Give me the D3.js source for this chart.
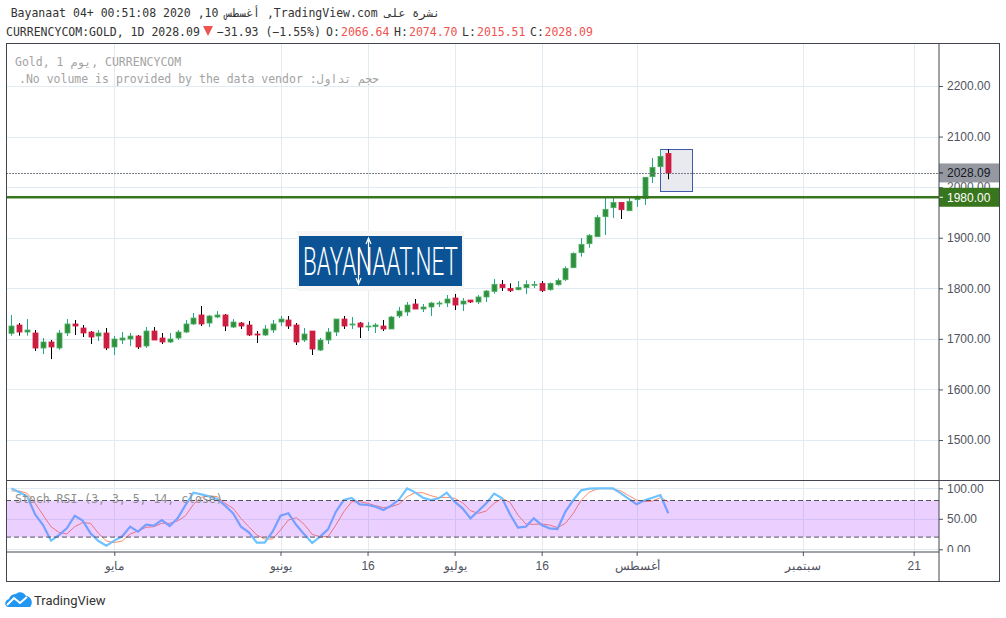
<!DOCTYPE html>
<html>
<head>
<meta charset="utf-8">
<style>
body { margin: 0; background: #fff; }
svg { display: block; }
.mono { font-family: "DejaVu Sans Mono", monospace; font-size: 11.5px; }
.axis text { font-family: "Liberation Sans", sans-serif; font-size: 12px; fill: #50535e; }
.axis line { stroke: #50535e; }
.axis path { display: none; }
</style>
</head>
<body>
<script src="https://cdn.jsdelivr.net/npm/d3@7"></script>
<script>

// bars are numbered from 1 May, weekdays only; first bar on screen is -13
var firstBar = -13;
var opens = [1710.9,1727.4,1713.5,1711.6,1681.9,1693.8,1681.9,1711.6,1729.4,1721.4,1713.5,1705.6,1711.6,
  1683.9,1697.7,1699.7,1705.6,1685.9,1715.5,1701.7,1693.8,1701.7,1713.5,1729.4,1747.2,1731.3,1743.2,1747.2,1723.4,1731.3,
  1727.4,1709.6,1707.6,1717.5,1733.3,1737.3,1727.4,1697.7,1715.5,1677.9,1697.7,1713.5,1739.2,1727.4,1731.3,1724,1724,1725.4,
  1719.5,1745.2,1753.1,1768.9,1759,1763,1768.9,1770.9,1780.8,1768.9,1776.8,1772.9,1782.8,
  1793.9,1807.8,1799.8,1797.2,1801.2,1807.1,1809.7,1797.2,1807.1,1817,1840.7,1870.4,1888.2,1902,1941.6,1959.4,1969.9,1953.4,
  1975.2,1977.2,2020.7,2040.5,2066.64];
var highs = [1747.2,1731.3,1739.2,1717.5,1701.7,1697.7,1717.5,1739.2,1737.3,1727.4,1715.5,1717.5,1721.4,
  1705.6,1713.5,1711.6,1707.6,1723.4,1723.4,1711.6,1711.6,1717.5,1737.3,1751.1,1765,1747.2,1755,1749.1,1739.2,1733.3,
  1735.3,1715.5,1727.4,1737.3,1745.2,1745.2,1731.3,1721.4,1715.5,1701.7,1721.4,1739.2,1745.2,1743.2,1733.3,1733.3,1731.3,1737.3,
  1745.2,1763,1772.9,1778.8,1768.9,1772.9,1774.8,1786.7,1788.7,1780.8,1776.8,1786.7,1796.6,
  1818.3,1816.3,1809.7,1814.4,1815.7,1814.4,1814.4,1811.7,1819.6,1843.4,1871,1899.4,1907.3,1944.9,1979.8,1981.1,1969.9,1982.5,
  1983.8,2020,2057.6,2074.7,2074.7];
var lows = [1706.3,1706.3,1706.3,1676,1670,1660,1677.9,1705.6,1707.6,1703.6,1689.8,1695.7,1677.9,
  1668,1689.8,1685.9,1679.9,1681.9,1697.7,1689.8,1691.8,1697.7,1711.6,1727.4,1725.4,1723.4,1741.2,1715.5,1721.4,1719.5,
  1705.6,1691.8,1705.6,1711.6,1725.4,1719.5,1687.8,1693.8,1668,1676,1689.8,1705.6,1719.5,1719.5,1701.7,1715.5,1711.6,1715.5,
  1719.5,1741.2,1745.2,1759,1753.1,1745.2,1763,1763,1757,1755,1770.9,1768.9,1772.9,
  1789.3,1794.6,1792.6,1795.9,1788.6,1800.5,1792.6,1795.2,1805.1,1814.4,1840,1862.5,1880.3,1901.4,1905.3,1939,1937,1953.4,
  1960.7,1964.7,2008.2,2039.1,2015.51];
var closes = [1725.4,1713.5,1717.5,1681.9,1693.8,1683.9,1711.6,1729.4,1725.4,1711.6,1703.6,1711.6,1681.9,
  1699.7,1701.7,1705.6,1683.9,1715.5,1697.7,1693.8,1699.7,1713.5,1729.4,1741.2,1729.4,1745.2,1747.2,1725.4,1733.3,1725.4,
  1707.6,1707.6,1719.5,1729.4,1739.2,1725.4,1693.8,1709.6,1679.9,1697.7,1713.5,1739.2,1725.4,1729.4,1723.4,1725.4,1727.4,1719.5,
  1743.2,1755,1766.9,1759,1763,1770.9,1770.9,1778.8,1766.9,1774.8,1772.9,1782.8,1794.6,
  1807.8,1801.2,1795.2,1801.8,1807.8,1807.8,1795.2,1809.7,1815.7,1839.4,1869.1,1886.9,1904.7,1940.3,1956.1,1969.9,1955.4,1971.9,
  1981.8,2019.4,2039.1,2060.9,2028.09];

var stochK = [99.9,93.4,86.3,57.3,39.8,14.2,23.4,34.4,55.1,47,26.2,13.6,5.9,
  14.2,21.3,37.1,28.9,40.4,38.9,48,38.2,50.8,72.6,92.8,90.1,86.8,82.5,71.5,59,37.1,27.8,10.9,10.9,28.9,55.1,59,39.8,24.5,10.3,20.7,32.7,61.7,
  80.8,84.1,73.7,72.6,69.9,64.4,71.5,81.9,100,93.4,84.6,80.8,83.6,92.8,78.1,67.2,50.8,62.8,75.4,91.2,83.6,57.3,35.5,37.1,50.8,39.8,34.4,33.3,
  61.7,80.8,96.7,99.4,100,100,100,91.7,82.5,73.7,80.3,84.6,89,59];
var stochD = [95.6,95.6,91.7,75.4,56.2,37.1,27.8,25.1,37.1,43.7,42.6,26.2,13.6,
  10.9,13.6,25.1,30,36,37.1,42.6,42.6,46.4,55.1,73.7,85.2,87.9,86.3,75.4,67.2,50.8,37.1,23.4,16.9,16.9,31.6,48,51.9,40.9,24.5,20.7,20.7,39.8,
  61.7,78.1,78.1,75.4,71.5,68.3,69.9,74.3,86.3,92.8,92.8,87.9,84.6,85.2,83.6,76.4,63.3,59,62.8,75.4,83.6,77,56.2,41.5,40.9,41.5,39.8,35.5,
  42.6,59,80.8,93.4,98.9,100,98.9,95.6,87.9,80.8,78.1,79.2,84.6,78.1];

var priceTicks = [2200, 2100, 2000, 1900, 1800, 1700, 1600, 1500];
var rsiTicks = [100, 50, 0];
var timeBars = [0, 21, 32, 43, 54, 66, 87, 101];
var timeLabels = ["مايو", "يونيو", "16", "يوليو", "16", "أغسطس", "سبتمبر", "21"];
var lastPrice = 2028.09;
var levelPrice = 1980;
var boxBars = [69, 73.08];
var boxPrices = [2074.5, 1991];
var bandLevels = [80, 20];

var bars = opens.map(function(o, i) {
  return {bar: firstBar + i, o: o, h: highs[i], l: lows[i], c: closes[i], k: stochK[i], d: stochD[i]};
});

var frameLeft = 6, frameRight = 999, plotRight = 939, frameTop = 43, paneBottom = 480.5, rsiBottom = 552, frameBottom = 581;

var x = d3.scaleLinear().domain([0, 70]).range([114.3, 668.3]);
var y = d3.scaleLinear().domain([1500, 2200]).range([440, 86]);
var yRsi = d3.scaleLinear().domain([0, 100]).range([549.3, 488.3]);

var svg = d3.select("body").append("svg")
    .attr("width", 1006)
    .attr("height", 618);

var defs = svg.append("defs");
defs.append("clipPath").attr("id", "pricePane").append("rect")
    .attr("x", frameLeft).attr("y", frameTop).attr("width", plotRight - frameLeft).attr("height", paneBottom - frameTop);
defs.append("clipPath").attr("id", "rsiPane").append("rect")
    .attr("x", frameLeft).attr("y", paneBottom).attr("width", plotRight - frameLeft).attr("height", rsiBottom - paneBottom);
defs.append("clipPath").attr("id", "rsiAxis").append("rect")
    .attr("x", plotRight).attr("y", paneBottom).attr("width", frameRight - plotRight).attr("height", rsiBottom - paneBottom);

// grid
var gridColor = "#e1ecf2";
svg.append("g").selectAll("line").data(timeBars).enter().append("line")
    .attr("x1", function(d) { return Math.round(x(d)) + 0.5; })
    .attr("x2", function(d) { return Math.round(x(d)) + 0.5; })
    .attr("y1", frameTop).attr("y2", rsiBottom)
    .attr("stroke", gridColor);
svg.append("g").selectAll("line").data(priceTicks).enter().append("line")
    .attr("x1", frameLeft).attr("x2", plotRight)
    .attr("y1", function(d) { return Math.round(y(d)) + 0.5; })
    .attr("y2", function(d) { return Math.round(y(d)) + 0.5; })
    .attr("stroke", gridColor);
svg.append("g").selectAll("line").data(rsiTicks).enter().append("line")
    .attr("x1", frameLeft).attr("x2", plotRight)
    .attr("y1", function(d) { return Math.round(yRsi(d)) + 0.5; })
    .attr("y2", function(d) { return Math.round(yRsi(d)) + 0.5; })
    .attr("stroke", gridColor);

// price pane
var price = svg.append("g").attr("clip-path", "url(#pricePane)");

price.append("rect")
    .attr("x", Math.round(x(boxBars[0])) + 0.5)
    .attr("y", Math.round(y(boxPrices[0])) + 0.5)
    .attr("width", Math.round(x(boxBars[1]) - x(boxBars[0])))
    .attr("height", Math.round(y(boxPrices[1]) - y(boxPrices[0])))
    .attr("fill", "#e9e9f0")
    .attr("stroke", "#3f5aa8");

var candle = price.selectAll(".candle").data(bars).enter().append("g").attr("class", "candle");
candle.append("line")
    .attr("x1", function(d) { return Math.round(x(d.bar)) + 0.5; })
    .attr("x2", function(d) { return Math.round(x(d.bar)) + 0.5; })
    .attr("y1", function(d) { return y(d.h); })
    .attr("y2", function(d) { return y(d.l); })
    .attr("stroke", function(d) { return d.c >= d.o ? "#22a78e" : "#000"; });
candle.append("rect")
    .attr("x", function(d) { return Math.round(x(d.bar)) - 2; })
    .attr("y", function(d) { return y(Math.max(d.o, d.c)); })
    .attr("width", 5)
    .attr("height", function(d) { return Math.max(1, Math.abs(y(d.o) - y(d.c))); })
    .attr("fill", function(d) { return d.c >= d.o ? "#2f8f3c" : "#c9203f"; })
    .attr("stroke", function(d) { return d.c >= d.o ? "#4caf60" : "#d81b4a"; })
    .attr("stroke-width", 0.8);

price.append("line")
    .attr("x1", frameLeft).attr("x2", plotRight)
    .attr("y1", Math.round(y(lastPrice)) + 0.5).attr("y2", Math.round(y(lastPrice)) + 0.5)
    .attr("stroke", "#787b86")
    .attr("stroke-dasharray", "2 1");
price.append("line")
    .attr("x1", frameLeft).attr("x2", plotRight)
    .attr("y1", y(levelPrice)).attr("y2", y(levelPrice))
    .attr("stroke", "#38761d")
    .attr("stroke-width", 2.4);

// site badge, sits on top of the chart
var badge = svg.append("g");
badge.append("rect").attr("x", 297).attr("y", 231).attr("width", 167).attr("height", 60).attr("fill", "#f6f6f6");
badge.append("rect").attr("x", 299).attr("y", 236).attr("width", 163).attr("height", 50).attr("fill", "#0b5394");
badge.append("text")
    .attr("x", 303).attr("y", 275)
    .attr("textLength", 155).attr("lengthAdjust", "spacingAndGlyphs")
    .attr("font-family", "Roboto, sans-serif").attr("font-weight", 300).attr("font-size", 38)
    .attr("fill", "#fff")
    .text("BAYANAAT.NET");
badge.append("path")
    .attr("d", "M358.5 248V282M356 278L358.5 284L361 278M368.5 275V240M366 244L368.5 238L371 244")
    .attr("fill", "none").attr("stroke", "#fff").attr("stroke-width", 1.2);

svg.append("text").attr("class", "mono")
    .attr("x", 15).attr("y", 66).attr("fill", "#a3a3a3")
    .text("Gold, 1 يوم, CURRENCYCOM");
svg.append("text").attr("class", "mono")
    .attr("x", 379).attr("y", 83).attr("fill", "#a3a3a3")
    .attr("direction", "rtl")
    .text("حجم تداول: No volume is provided by the data vendor.");

// stochastic pane, the band goes over the lines
var rsi = svg.append("g").attr("clip-path", "url(#rsiPane)");
var lineK = d3.line().x(function(d) { return x(d.bar); }).y(function(d) { return yRsi(d.k); });
var lineD = d3.line().x(function(d) { return x(d.bar); }).y(function(d) { return yRsi(d.d); });
rsi.append("path").datum(bars).attr("d", lineD)
    .attr("fill", "none").attr("stroke", "#ff8a65").attr("stroke-width", 1);
rsi.append("path").datum(bars).attr("d", lineK)
    .attr("fill", "none").attr("stroke", "#6ec2ff").attr("stroke-width", 2.2);
rsi.append("rect")
    .attr("x", frameLeft).attr("width", plotRight - frameLeft)
    .attr("y", yRsi(bandLevels[0])).attr("height", yRsi(bandLevels[1]) - yRsi(bandLevels[0]))
    .attr("fill", "#9915ff").attr("fill-opacity", 0.2);
rsi.selectAll(".band").data(bandLevels).enter().append("line")
    .attr("class", "band")
    .attr("x1", frameLeft).attr("x2", plotRight)
    .attr("y1", function(d) { return yRsi(d); })
    .attr("y2", function(d) { return yRsi(d); })
    .attr("stroke", "#50535e")
    .attr("stroke-dasharray", "5 3");

svg.append("text").attr("class", "mono")
    .attr("x", 15).attr("y", 503).attr("fill", "#8f8f8f")
    .text("Stoch RSI (3, 3, 5, 14, close)");

// axes
svg.append("g").attr("class", "axis")
    .attr("transform", "translate(" + plotRight + ",0)")
    .call(d3.axisRight(y).tickValues(priceTicks).tickSize(4).tickPadding(4).tickFormat(d3.format(".2f")));
svg.append("g").attr("clip-path", "url(#rsiAxis)").append("g").attr("class", "axis")
    .attr("transform", "translate(" + plotRight + ",0)")
    .call(d3.axisRight(yRsi).tickValues(rsiTicks).tickSize(4).tickPadding(4).tickFormat(d3.format(".2f")));
svg.append("g").attr("class", "axis")
    .attr("transform", "translate(0," + rsiBottom + ")")
    .call(d3.axisBottom(x).tickValues(timeBars).tickSize(4).tickPadding(5)
      .tickFormat(function(d, i) { return timeLabels[i]; }));

// price labels
function priceLabel(value, h, fill, color) {
  svg.append("rect")
      .attr("x", plotRight).attr("width", frameRight - plotRight)
      .attr("y", y(value) - h / 2).attr("height", h)
      .attr("fill", fill);
  svg.append("line")
      .attr("x1", plotRight).attr("x2", plotRight + 4)
      .attr("y1", y(value)).attr("y2", y(value))
      .attr("stroke", color);
  svg.append("text")
      .attr("x", plotRight + 8).attr("y", y(value) + 4.5)
      .attr("font-family", "'Liberation Sans', sans-serif").attr("font-size", 12)
      .attr("fill", color)
      .text(d3.format(".2f")(value));
}
priceLabel(lastPrice, 19, "#9598a1", "#131722");
priceLabel(levelPrice, 19, "#38761d", "#fff");

// frame
svg.append("rect")
    .attr("x", frameLeft + 0.5).attr("y", frameTop + 0.5)
    .attr("width", frameRight - frameLeft).attr("height", frameBottom - frameTop)
    .attr("fill", "none").attr("stroke", "#434651");
svg.append("line").attr("x1", plotRight).attr("x2", plotRight).attr("y1", frameTop).attr("y2", frameBottom).attr("stroke", "#434651");
svg.append("line").attr("x1", frameLeft).attr("x2", frameRight).attr("y1", paneBottom).attr("y2", paneBottom).attr("stroke", "#434651");
svg.append("line").attr("x1", frameLeft).attr("x2", plotRight).attr("y1", rsiBottom).attr("y2", rsiBottom).attr("stroke", "#434651");

// header
svg.append("text").attr("class", "mono")
    .attr("x", 440).attr("y", 17).attr("fill", "#333")
    .attr("direction", "rtl")
    .text("نشرة على TradingView.com, أغسطس 10, 2020 00:51:08 +04 Bayanaat");

var headerParts = [
  {x: 6, t: "CURRENCYCOM:GOLD, 1D 2028.09", c: "#333"},
  {x: 217, t: "−31.93 (−1.55%)", c: "#333"},
  {x: 326, t: "O:", c: "#333"},
  {x: 341, t: "2066.64", c: "#ef5350"},
  {x: 394, t: "H:", c: "#333"},
  {x: 409, t: "2074.70", c: "#ef5350"},
  {x: 462, t: "L:", c: "#333"},
  {x: 477, t: "2015.51", c: "#ef5350"},
  {x: 530, t: "C:", c: "#333"},
  {x: 544.5, t: "2028.09", c: "#ef5350"}
];
svg.append("g").selectAll("text").data(headerParts).enter().append("text")
    .attr("class", "mono")
    .attr("x", function(d) { return d.x; })
    .attr("y", 36)
    .attr("fill", function(d) { return d.c; })
    .text(function(d) { return d.t; });
svg.append("path").attr("d", "M203 26H213L208 36Z").attr("fill", "#ef5350");

// footer logo
var logo = svg.append("g");
logo.append("path")
    .attr("d", "M9 607C4 607 4 600 9 599C10 595 14 594 16 594C19 591 24 592 26 596C31 596 34 603 30 607Z")
    .attr("fill", "#2196f3");
logo.append("path")
    .attr("d", "M7 605L14 598L20 603L27 597")
    .attr("fill", "none").attr("stroke", "#fff").attr("stroke-width", 2);
logo.append("text")
    .attr("x", 34).attr("y", 605)
    .attr("font-family", "Roboto, sans-serif").attr("font-size", 13)
    .attr("fill", "#333")
    .text("TradingView");

</script>
</body>
</html>
